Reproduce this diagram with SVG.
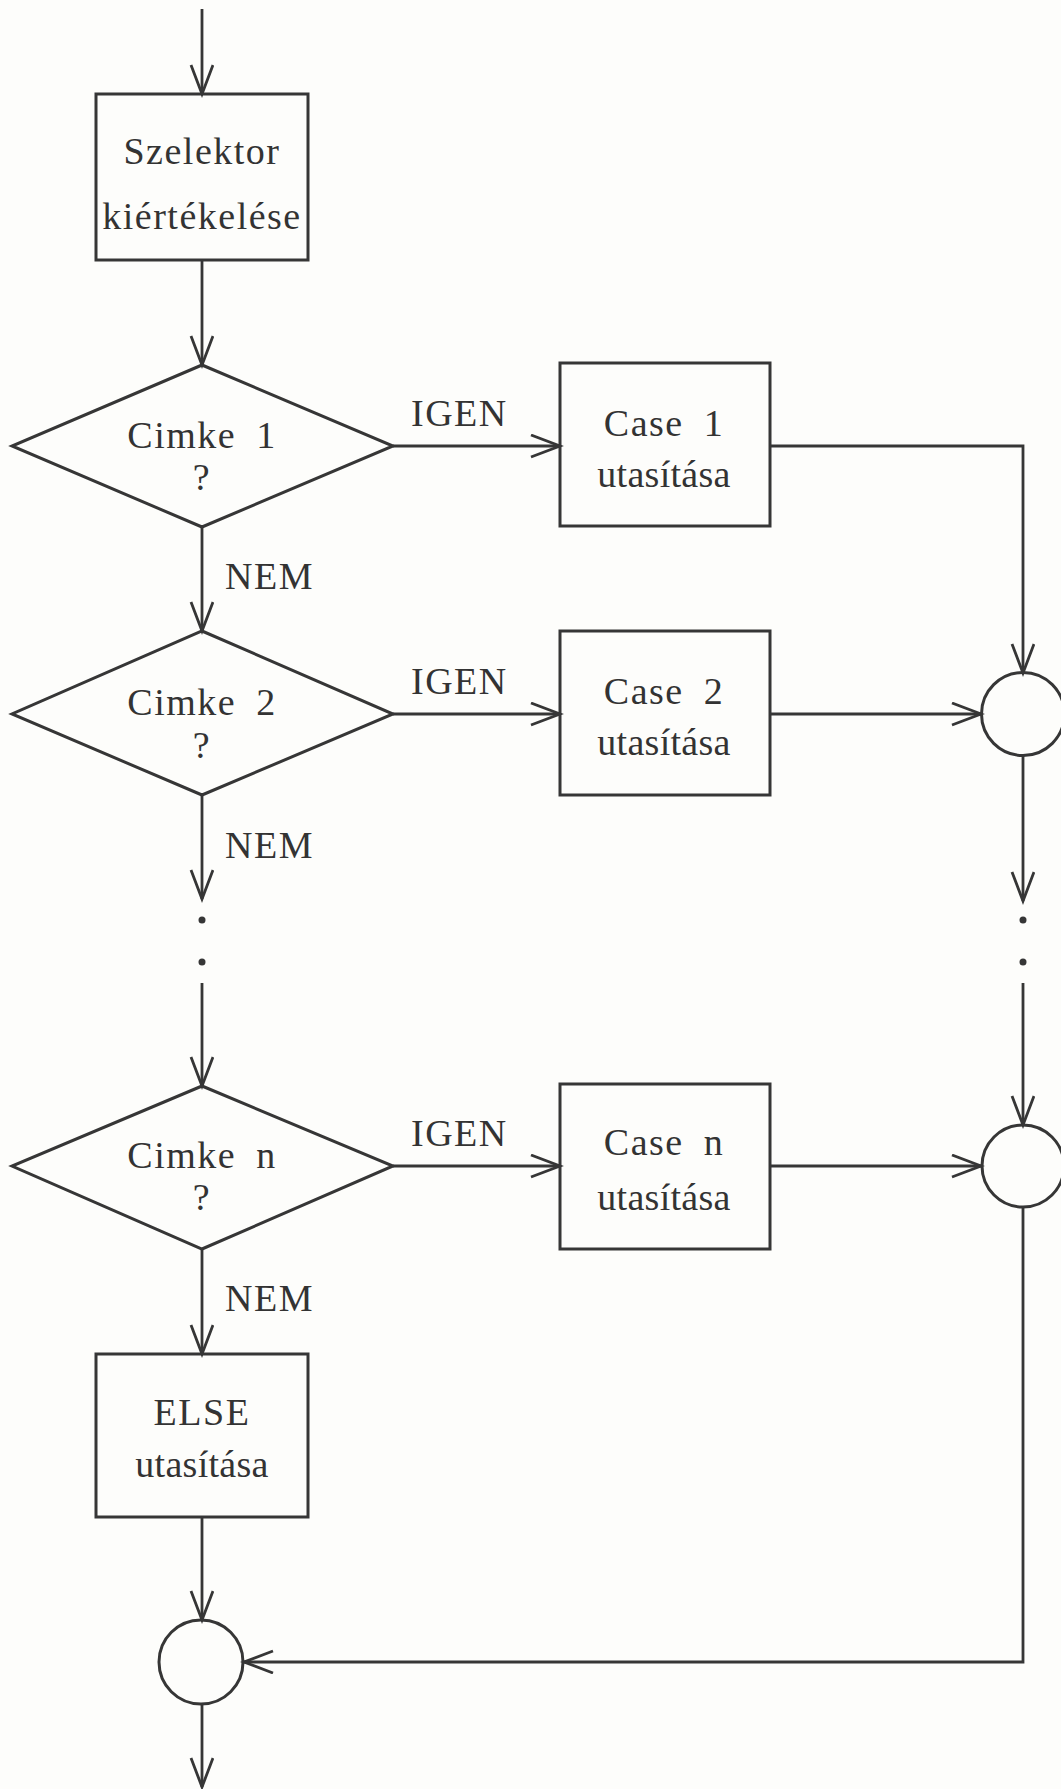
<svg xmlns="http://www.w3.org/2000/svg" width="1061" height="1789" viewBox="0 0 1061 1789">
  <style>
    .shape { fill: none; stroke: #363636; stroke-width: 3; }
    .wire { fill: none; stroke: #363636; stroke-width: 2.8; }
    .lbl { font-family: "Liberation Serif", "Times New Roman", serif; font-size: 38px; fill: #333; letter-spacing: 1.5px; word-spacing: 9px; }
    .tight { letter-spacing: 0.3px; }
    .mid { text-anchor: middle; }
    .dot { fill: #363636; }
  </style>
  <defs>
    <marker id="arrow" markerUnits="userSpaceOnUse" markerWidth="34" markerHeight="26" refX="30" refY="12" orient="auto">
      <path d="M1,1 L30,12 L1,23" fill="none" stroke="#363636" stroke-width="2.8"/>
    </marker>
  </defs>

  <rect x="0" y="0" width="1061" height="1789" fill="#fdfdfb"/>

  <!-- connectors -->
  <g id="connectors">
    <!-- left column -->
    <line class="wire" x1="202" y1="9" x2="202" y2="94" marker-end="url(#arrow)"/>
    <line class="wire" x1="202" y1="260" x2="202" y2="365" marker-end="url(#arrow)"/>
    <line class="wire" x1="202" y1="527" x2="202" y2="631" marker-end="url(#arrow)"/>
    <line class="wire" x1="202" y1="795" x2="202" y2="899" marker-end="url(#arrow)"/>
    <line class="wire" x1="202" y1="983" x2="202" y2="1086" marker-end="url(#arrow)"/>
    <line class="wire" x1="202" y1="1249" x2="202" y2="1354" marker-end="url(#arrow)"/>
    <line class="wire" x1="202" y1="1517" x2="202" y2="1620" marker-end="url(#arrow)"/>
    <line class="wire" x1="202" y1="1704" x2="202" y2="1787" marker-end="url(#arrow)"/>
    <!-- decision to case statement -->
    <line class="wire" x1="393" y1="446" x2="560" y2="446" marker-end="url(#arrow)"/>
    <line class="wire" x1="393" y1="714" x2="560" y2="714" marker-end="url(#arrow)"/>
    <line class="wire" x1="393" y1="1166" x2="560" y2="1166" marker-end="url(#arrow)"/>
    <!-- case statements to joins -->
    <polyline class="wire" points="770,446 1023,446 1023,673" marker-end="url(#arrow)"/>
    <line class="wire" x1="770" y1="714" x2="981" y2="714" marker-end="url(#arrow)"/>
    <line class="wire" x1="770" y1="1166" x2="981" y2="1166" marker-end="url(#arrow)"/>
    <!-- right column -->
    <line class="wire" x1="1023" y1="756" x2="1023" y2="901" marker-end="url(#arrow)"/>
    <line class="wire" x1="1023" y1="983" x2="1023" y2="1125" marker-end="url(#arrow)"/>
    <polyline class="wire" points="1023,1207 1023,1662 244,1662" marker-end="url(#arrow)"/>
    <!-- continuation dots -->
    <circle class="dot" cx="202" cy="920" r="3.5"/>
    <circle class="dot" cx="202" cy="962" r="3.5"/>
    <circle class="dot" cx="1023" cy="920" r="3.5"/>
    <circle class="dot" cx="1023" cy="962" r="3.5"/>
    <!-- branch labels -->
    <text class="lbl" x="411" y="426">IGEN</text>
    <text class="lbl" x="411" y="694">IGEN</text>
    <text class="lbl" x="411" y="1146">IGEN</text>
    <text class="lbl" x="225" y="589">NEM</text>
    <text class="lbl" x="225" y="858">NEM</text>
    <text class="lbl" x="225" y="1311">NEM</text>
  </g>

  <g id="selector">
    <rect class="shape" x="96" y="94" width="212" height="166"/>
    <text class="lbl mid" x="202" y="164">Szelektor</text>
    <text class="lbl mid" x="202" y="229">kiértékelése</text>
  </g>

  <g id="label1">
    <polygon class="shape" points="202,365 393,446 202,527 12,446"/>
    <text class="lbl mid" x="202" y="448">Cimke 1</text>
    <text class="lbl mid" x="202" y="490">?</text>
  </g>

  <g id="case1">
    <rect class="shape" x="560" y="363" width="210" height="163"/>
    <text class="lbl mid" x="664" y="436">Case 1</text>
    <text class="lbl mid tight" x="664" y="487">utasítása</text>
  </g>

  <g id="label2">
    <polygon class="shape" points="202,631 393,714 202,795 12,714"/>
    <text class="lbl mid" x="202" y="715">Cimke 2</text>
    <text class="lbl mid" x="202" y="758">?</text>
  </g>

  <g id="case2">
    <rect class="shape" x="560" y="631" width="210" height="164"/>
    <text class="lbl mid" x="664" y="704">Case 2</text>
    <text class="lbl mid tight" x="664" y="755">utasítása</text>
  </g>

  <g id="join1">
    <circle class="shape" cx="1023" cy="714" r="41.5"/>
  </g>

  <g id="labeln">
    <polygon class="shape" points="202,1086 393,1166 202,1249 12,1166"/>
    <text class="lbl mid" x="202" y="1168">Cimke n</text>
    <text class="lbl mid" x="202" y="1210">?</text>
  </g>

  <g id="casen">
    <rect class="shape" x="560" y="1084" width="210" height="165"/>
    <text class="lbl mid" x="664" y="1155">Case n</text>
    <text class="lbl mid tight" x="664" y="1210">utasítása</text>
  </g>

  <g id="join2">
    <circle class="shape" cx="1023" cy="1166" r="41"/>
  </g>

  <g id="else">
    <rect class="shape" x="96" y="1354" width="212" height="163"/>
    <text class="lbl mid" x="202" y="1425">ELSE</text>
    <text class="lbl mid tight" x="202" y="1477">utasítása</text>
  </g>

  <g id="join3">
    <circle class="shape" cx="201" cy="1662" r="42"/>
  </g>
</svg>
